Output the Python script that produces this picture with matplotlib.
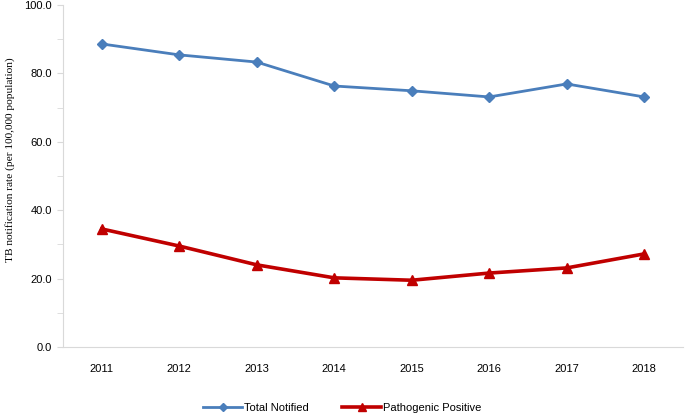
import matplotlib
matplotlib.use("Agg")
import matplotlib.pyplot as plt
from matplotlib.ticker import MultipleLocator, FormatStrFormatter

years = ["2011", "2012", "2013", "2014", "2015", "2016", "2017", "2018"]
total_notified = [88.6, 85.4, 83.3, 76.3, 74.9, 73.1, 76.9, 73.1]
pathogenic_positive = [34.5, 29.5, 24.0, 20.2, 19.5, 21.6, 23.1, 27.2]

fig = plt.figure(figsize=(6.85, 4.13), dpi=100)
ax = fig.add_axes([0.092, 0.16, 0.905, 0.828])

x = list(range(len(years)))
ax.plot(x, total_notified, color="#4A7EBB", lw=2, marker="D", ms=5,
        label="Total Notified")
ax.plot(x, pathogenic_positive, color="#C00000", lw=2.6, marker="^", ms=7,
        label="Pathogenic Positive")

ax.set_xlim(-0.5, len(years) - 0.5)
ax.set_ylim(0, 100)
ax.set_xticks(x)
ax.set_xticklabels(years, fontsize=8, family="Liberation Sans")
ax.yaxis.set_major_locator(MultipleLocator(20))
ax.yaxis.set_minor_locator(MultipleLocator(10))
ax.yaxis.set_major_formatter(FormatStrFormatter("%.1f"))
for lab in ax.get_yticklabels():
    lab.set_fontsize(8)
    lab.set_family("Liberation Sans")
ax.tick_params(axis="x", length=0, pad=12)
ax.tick_params(axis="y", which="both", length=4, color="#D9D9D9", pad=4)

for s in ["top", "right"]:
    ax.spines[s].set_visible(False)
for s in ["left", "bottom"]:
    ax.spines[s].set_color("#D9D9D9")

ax.set_ylabel("TB notification rate (per 100,000 population)",
              family="Liberation Serif", fontsize=8.2)
ax.yaxis.set_label_coords(-0.077, 0.547)

fig.legend(loc="lower center", bbox_to_anchor=(0.5, -0.025), ncol=2, frameon=False,
           prop={"family": "Liberation Sans", "size": 8}, handlelength=3.5,
           columnspacing=3, handletextpad=0.2, markerscale=0.8)

fig.savefig("out.png", dpi=100)
